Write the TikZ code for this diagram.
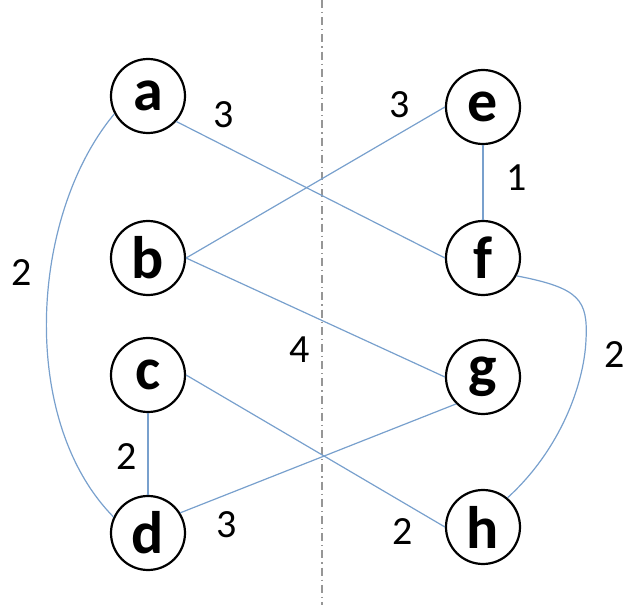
\documentclass[tikz,border=0pt]{standalone}
\usepackage{fontspec}
\setmainfont{Carlito}
\usepackage{tikz}
\usetikzlibrary{calc}
\definecolor{edgeblue}{RGB}{120,160,205}
\definecolor{axisgray}{RGB}{150,150,150}

\begin{document}
\begin{tikzpicture}[x=0.5pt, y=-0.5pt,
  vertex/.style={circle, draw, line width=1.1pt, minimum size=37pt, inner sep=0pt, font=\fontsize{30}{30}\selectfont\bfseries},
  edge/.style={edgeblue, line width=0.6pt},
  weight/.style={font=\fontsize{20}{20}\selectfont}]
\useasboundingbox (0,0) rectangle (623,605);
% separating line
\coordinate (top) at (322,0);
\coordinate (bottom) at (322,605);
\draw[axisgray, line width=0.6pt, dash pattern=on 4pt off 2pt on 0.6pt off 2pt] (top) -- (bottom);
% left vertices
\node[vertex] (a) at (148,96) {a};
\node[vertex] (b) at (148,258) {b};
\node[vertex] (c) at (148,375) {c};
\node[vertex] (d) at (148,533) {d};
% right vertices
\node[vertex] (e) at (483,107) {e};
\node[vertex] (f) at (483,258) {f};
\node[vertex] (g) at (483,377) {g};
\node[vertex] (h) at (483,527) {h};
% edges
\draw[edge] (a.-42) -- (f.west);
\draw[edge] (b.east) -- (e.west);
\draw[edge] (b.east) -- (g.west);
\draw[edge] (c.east) -- (h.west);
\draw[edge] (d.32) -- (g.-135);
\draw[edge] (c) -- (d);
\draw[edge] (e) -- (f);
\draw[edge] (a.-152) .. controls (30,215) and (18,420) .. (d.155);
\draw[edge] (f.-28) .. controls (580,288) and (588,300) .. (586,340)
  .. controls (584,385) and (560,450) .. (h.50);
% weights
\node[weight] at (224,115) {3};
\node[weight] at (400,105) {3};
\node[weight] at (517,178) {1};
\node[weight] at (22,273) {2};
\node[weight] at (300,350) {4};
\node[weight] at (615,355) {2};
\node[weight] at (127,457) {2};
\node[weight] at (227,525) {3};
\node[weight] at (403,532) {2};
\end{tikzpicture}
\end{document}
